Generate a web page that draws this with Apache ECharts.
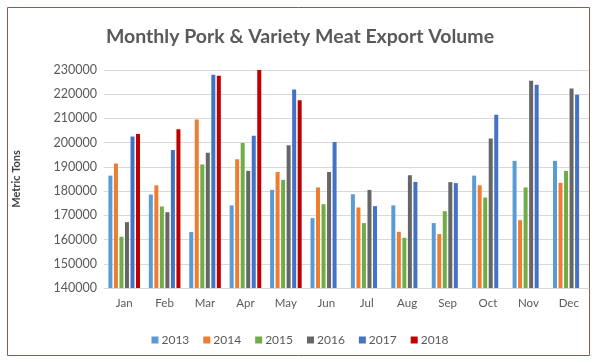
<!DOCTYPE html>
<html>
<head>
<meta charset="utf-8">
<script src="https://cdn.jsdelivr.net/npm/echarts@6/dist/echarts.min.js"></script>
<style>html,body{margin:0;padding:0;background:#fff;}#c{width:600px;height:363px;}</style>
</head>
<body>
<div id="c"></div>
<script>
const months = ['Jan','Feb','Mar','Apr','May','Jun','Jul','Aug','Sep','Oct','Nov','Dec'];
const years = ['2013','2014','2015','2016','2017','2018'];
const v2013 = [186400,178600,163100,174100,180500,168850,178700,174100,166800,186400,192500,192500];
const v2014 = [191400,182400,209600,193200,187900,181500,173250,163200,162250,182400,168000,183400];
const v2015 = [161150,173650,191000,199900,184650,174600,166800,160750,171700,177350,181500,188350];
const v2016 = [167200,171300,195800,188350,198900,187900,180500,186550,183700,201700,225600,222400];
const v2017 = [202500,197000,228000,202900,221900,200300,173800,183800,183300,211550,223900,219800];
const v2018 = [203600,205500,227600,230250,217500,null,null,null,null,null,null,null];
const yTicks = [140000,150000,160000,170000,180000,190000,200000,210000,220000,230000];
const colors = ['#5b9bd5','#ed7d31','#70ad47','#666666','#4472c4','#c00000'];
const allData = [v2013,v2014,v2015,v2016,v2017,v2018];

const chart = echarts.init(document.getElementById('c'));
chart.setOption({
  animation: false,
  backgroundColor: '#fff',
  textStyle: { fontFamily: 'Lato' },
  title: {
    text: 'Monthly Pork & Variety Meat Export Volume',
    left: 'center', top: 22,
    textStyle: { fontFamily: 'Lato', fontSize: 19.5, fontWeight: 'bold', color: '#595959' }
  },
  graphic: [{
    type: 'rect', shape: { x: 7.5, y: 7.5, width: 582, height: 348 },
    style: { fill: 'none', stroke: '#a0524d', lineWidth: 1 }, silent: true, z: -1
  }],
  legend: {
    data: years, bottom: 12, left: 'center', itemWidth: 7, itemHeight: 7, itemGap: 14,
    icon: 'rect',
    textStyle: { fontFamily: 'Lato', fontSize: 12, color: '#595959', padding: [0,0,0,-2] }
  },
  grid: { left: 104, right: 11, top: 70, bottom: 75, containLabel: false },
  xAxis: {
    type: 'category', data: months,
    axisLine: { show: true, lineStyle: { color: '#d9d9d9' } },
    axisTick: { show: false },
    axisLabel: { fontFamily: 'Lato', fontSize: 11.5, color: '#595959', margin: 9 }
  },
  yAxis: {
    type: 'value', min: 140000, max: 230000, interval: 10000,
    name: 'Metric Tons', nameLocation: 'middle', nameGap: 82, nameRotate: 90,
    nameTextStyle: { fontFamily: 'Lato', fontSize: 11, fontWeight: 'bold', color: '#404040' },
    axisLine: { show: false }, axisTick: { show: false },
    axisLabel: { fontFamily: 'Lato', fontSize: 12.5, color: '#595959', margin: 7,
      formatter: v => yTicks.includes(v) ? String(v) : '' },
    splitLine: { lineStyle: { color: '#d9d9d9' } }
  },
  series: years.map((y, i) => ({
    name: y, type: 'bar', data: allData[i], barWidth: 4, barGap: '38%',
    itemStyle: { color: colors[i] }
  }))
});
</script>
</body>
</html>
